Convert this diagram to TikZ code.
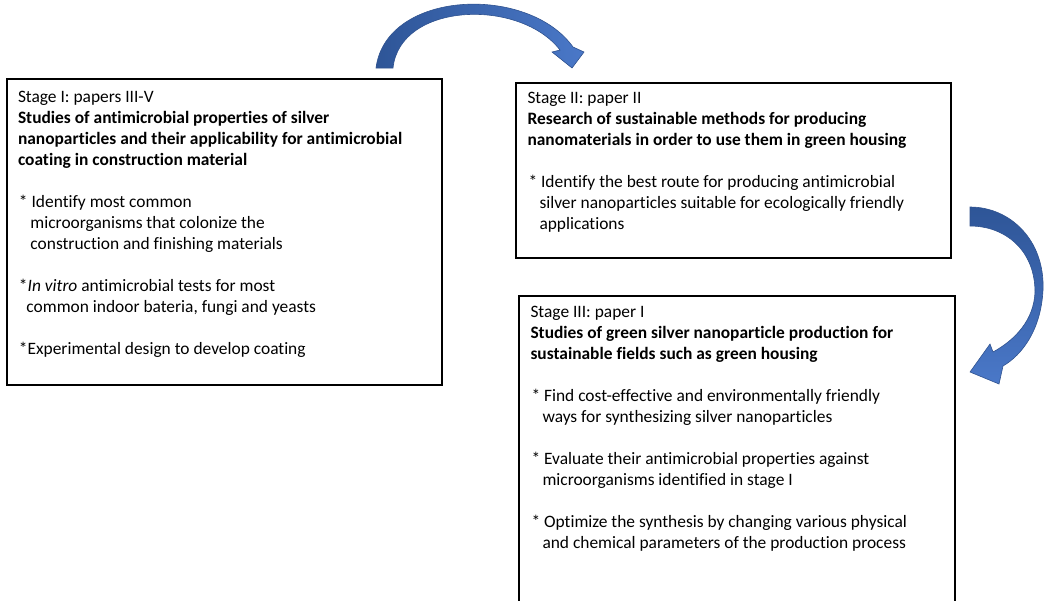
\documentclass[tikz,border=0pt]{standalone}
\usepackage{fontspec}
\setmainfont{Carlito}[Ligatures=NoCommon]
\definecolor{arrowdark}{HTML}{2E5597}
\definecolor{arrowlight}{HTML}{4A78C8}
\definecolor{arrowedge}{HTML}{2F528F}
\begin{document}
\begin{tikzpicture}[x=1pt,y=-1pt,
  stagebox/.style={draw=black,line width=1.6pt},
  txt/.style={anchor=base west,inner sep=0pt,outer sep=0pt,font=\fontsize{17.4}{21}\selectfont},
  btxt/.style={txt,font=\fontsize{17.4}{21}\selectfont\bfseries},
  blockarrow/.style={draw=arrowedge,line width=0.6pt}]
\useasboundingbox (0,0) rectangle (1044,600);
\clip (0,0) rectangle (1044,600);

% stage boxes
\draw[stagebox] (7,79) rectangle (442,385);
\draw[stagebox] (516,83) rectangle (951,258);
\draw[stagebox] (519,296) rectangle (955,620);

% stage I
\node[txt]  (s1a) at (18,102) {Stage I: papers III-V};
\node[btxt] (s1b) at (18,123) {Studies of antimicrobial properties of silver};
\node[btxt] (s1c) at (18,144) {nanoparticles and their applicability for antimicrobial};
\node[btxt] (s1d) at (18,165) {coating in construction material};
\node[txt]  (s1e) at (19,207) {* Identify most common};
\node[txt]  (s1f) at (30.5,228) {microorganisms that colonize the};
\node[txt]  (s1g) at (30.5,249) {construction and finishing materials};
\node[txt]  (s1h) at (19,291) {*\textit{In vitro} antimicrobial tests for most};
\node[txt]  (s1i) at (26.5,312) {common indoor bateria, fungi and yeasts};
\node[txt]  (s1j) at (19,354) {*Experimental design to develop coating};

% stage II
\node[txt]  (s2a) at (527.5,103.5) {Stage II: paper II};
\node[btxt] (s2b) at (527.5,124.5) {Research of sustainable methods for producing};
\node[btxt] (s2c) at (527.5,145.5) {nanomaterials in order to use them in green housing};
\node[txt]  (s2d) at (528.5,187.5) {* Identify the best route for producing antimicrobial};
\node[txt]  (s2e) at (539.5,208.5) {silver nanoparticles suitable for ecologically friendly};
\node[txt]  (s2f) at (539.5,229.5) {applications};

% stage III
\node[txt]  (s3a) at (530.5,317) {Stage III: paper I};
\node[btxt] (s3b) at (530.5,338) {Studies of green silver nanoparticle production for};
\node[btxt] (s3c) at (530.5,359) {sustainable fields such as green housing};
\node[txt]  (s3d) at (531.5,401) {* Find cost-effective and environmentally friendly};
\node[txt]  (s3e) at (542.5,422) {ways for synthesizing silver nanoparticles};
\node[txt]  (s3f) at (531.5,464) {* Evaluate their antimicrobial properties against};
\node[txt]  (s3g) at (542.5,485) {microorganisms identified in stage I};
\node[txt]  (s3h) at (531.5,527) {* Optimize the synthesis by changing various physical};
\node[txt]  (s3i) at (542.5,548) {and chemical parameters of the production process};

% curved arrow from stage I to stage II
\path[blockarrow,left color=arrowdark,right color=arrowlight]
  (376,68) .. controls (386,-10) and (528,-16) .. (573,47)
  -- (584,52) -- (572,68) -- (552,52) -- (560,50)
  .. controls (520,-2) and (400,2) .. (393,68) -- cycle;

% curved arrow from stage II to stage III
\path[blockarrow,top color=arrowdark,bottom color=arrowlight]
  (970,207) .. controls (1010,207) and (1045,240) .. (1043,290)
  .. controls (1041,330) and (1022,355) .. (1003,366)
  -- (999,384) -- (970,372) -- (990,344) -- (993,352)
  .. controls (1015,340) and (1034,320) .. (1035,292)
  .. controls (1035,250) and (1005,226) .. (970,226) -- cycle;
\end{tikzpicture}
\end{document}
